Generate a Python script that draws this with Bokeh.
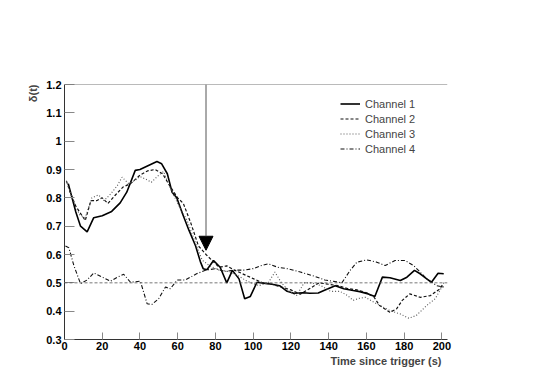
from bokeh.plotting import figure
from bokeh.models import Range1d, Span, Arrow, NormalHead, Title, Legend, LegendItem
from bokeh.embed import file_html
from bokeh.resources import INLINE

ch1_t = [2, 6, 8.5, 12, 15.5, 20, 25, 29.5, 33, 37.5, 40, 44.5, 49, 51.5, 54.5, 57, 59.5, 62.5, 66, 69.5,
         72, 73.5, 75.5, 79, 82.5, 86, 89, 92.5, 95.5, 98.5, 102, 105.5, 110, 114, 118, 121.5, 126.5, 130,
         134.5, 137.5, 143.5, 148, 153, 156.5, 161, 164.5, 168.5, 172.5, 178, 181.5, 185.5, 188.5, 192,
         194.5, 198, 201]
ch1_v = [0.85, 0.75, 0.70, 0.68, 0.73, 0.737, 0.752, 0.782, 0.82, 0.897, 0.90, 0.914, 0.928, 0.92, 0.885,
         0.82, 0.80, 0.745, 0.685, 0.63, 0.575, 0.55, 0.546, 0.579, 0.555, 0.50, 0.544, 0.514, 0.444, 0.452,
         0.502, 0.499, 0.495, 0.49, 0.47, 0.463, 0.465, 0.463, 0.464, 0.473, 0.49, 0.479, 0.473, 0.469,
         0.461, 0.452, 0.52, 0.518, 0.508, 0.52, 0.544, 0.532, 0.514, 0.502, 0.534, 0.532]

ch2_t = [1, 3, 6, 11, 14, 17, 20, 23, 27, 31, 35, 40, 44, 48, 52, 56, 60, 63, 67, 71, 75, 78, 82, 86, 90,
         95, 100, 105, 110, 115, 120, 125, 130, 135, 140, 145, 150, 155, 160, 164, 167, 172.5, 176, 179,
         183, 188.5, 194, 199, 201]
ch2_v = [0.86, 0.82, 0.77, 0.72, 0.79, 0.79, 0.80, 0.78, 0.81, 0.838, 0.85, 0.88, 0.895, 0.90, 0.885,
         0.84, 0.80, 0.78, 0.71, 0.63, 0.60, 0.58, 0.555, 0.56, 0.545, 0.53, 0.515, 0.50, 0.495, 0.485,
         0.475, 0.46, 0.48, 0.50, 0.495, 0.49, 0.48, 0.475, 0.465, 0.45, 0.42, 0.396, 0.408, 0.438, 0.461,
         0.449, 0.455, 0.479, 0.50]

ch3_t = [1, 4, 8, 11, 14.5, 18, 21, 24.5, 28, 30.5, 34, 37.5, 40, 44, 46, 50, 52.5, 55, 60, 65, 70, 73,
         77, 82, 87, 92, 97, 103, 108, 111.5, 115, 119, 123, 127, 131, 136, 141, 146, 150, 153, 156, 159.5,
         165.5, 172.5, 178, 182.5, 186.5, 192, 196.5, 200, 201.5]
ch3_v = [0.86, 0.80, 0.74, 0.73, 0.80, 0.81, 0.79, 0.814, 0.843, 0.873, 0.85, 0.862, 0.875, 0.863, 0.855,
         0.88, 0.893, 0.85, 0.78, 0.72, 0.63, 0.58, 0.56, 0.545, 0.54, 0.525, 0.505, 0.49, 0.50, 0.538,
         0.50, 0.47, 0.455, 0.50, 0.50, 0.49, 0.47, 0.47, 0.455, 0.438, 0.445, 0.449, 0.426, 0.402, 0.39,
         0.375, 0.385, 0.42, 0.444, 0.485, 0.49]

ch4_t = [0.5, 2.3, 5, 8.5, 12, 15.5, 20, 24.4, 28, 31.4, 35, 40.2, 43.8, 46.4, 49.9, 53.5, 56.1, 59.7, 64,
         70, 75, 80, 85, 90, 95, 100, 104, 108, 113, 118, 125, 133, 138, 143, 147, 151.4, 155, 160.2,
         165.5, 170, 175.2, 180.5, 185, 187.6, 192, 197.3, 201]
ch4_v = [0.63, 0.624, 0.56, 0.497, 0.51, 0.535, 0.52, 0.506, 0.52, 0.53, 0.502, 0.506, 0.426, 0.424, 0.444,
         0.485, 0.479, 0.51, 0.51, 0.532, 0.545, 0.55, 0.54, 0.545, 0.545, 0.55, 0.56, 0.567, 0.555, 0.55,
         0.538, 0.522, 0.51, 0.505, 0.50, 0.544, 0.573, 0.581, 0.573, 0.561, 0.579, 0.579, 0.561, 0.544,
         0.514, 0.49, 0.485]

labels = ["Channel 1", "Channel 2", "Channel 3", "Channel 4"]
x_ticks = [0, 20, 40, 60, 80, 100, 120, 140, 160, 180, 200]
y_ticks = [0.3, 0.4, 0.5, 0.6, 0.7, 0.8, 0.9, 1.0, 1.1, 1.2]
y_tick_text = {0.3: "0.3", 0.4: "0.4", 0.5: "0.5", 0.6: "0.6", 0.7: "0.7", 0.8: "0.8",
               0.9: "0.9", 1.0: "1", 1.1: "1.1", 1.2: "1.2"}
trigger_t = 75
baseline = 0.5

FONT = "Liberation Sans"

p = figure(width=537, height=377, output_backend="svg", toolbar_location=None,
           x_range=Range1d(0, 203), y_range=Range1d(0.3, 1.2),
           min_border_left=64, min_border_right=90, min_border_top=84, min_border_bottom=38)
p.outline_line_color = None
p.xgrid.visible = False
p.ygrid.visible = False
p.background_fill_color = "white"
p.border_fill_color = "white"

for ax in (p.xaxis[0], p.yaxis[0]):
    ax.axis_line_color = "#333333"
    ax.axis_line_width = 1
    ax.major_tick_line_color = "#888888"
    ax.minor_tick_line_color = "#555555"
    ax.major_tick_out = 0
    ax.minor_tick_out = 0
    ax.major_label_text_font = FONT
    ax.major_label_text_font_style = "bold"
    ax.major_label_text_font_size = "11px"
    ax.major_label_text_color = "black"

p.xaxis.ticker = x_ticks
p.xaxis[0].ticker.num_minor_ticks = 4
p.xaxis.major_tick_in = 7
p.xaxis.minor_tick_in = 4
p.xaxis.major_label_standoff = 2

p.yaxis.ticker = y_ticks
p.yaxis[0].ticker.num_minor_ticks = 5
p.yaxis.major_tick_in = 10
p.yaxis.minor_tick_in = 5
p.yaxis.major_label_standoff = 3
p.yaxis.major_label_overrides = y_tick_text

# frame top line and baseline
p.add_layout(Span(location=1.2, dimension="width", line_color="#777777", line_width=1))
p.add_layout(Span(location=baseline, dimension="width", line_color="#555555", line_width=0.8,
                  line_dash="3 2"))

r1 = p.line(ch1_t, ch1_v, line_color="black", line_width=1.6)
r2 = p.line(ch2_t, ch2_v, line_color="#111111", line_width=1.2, line_dash="3 2")
r3 = p.line(ch3_t, ch3_v, line_color="#555555", line_width=1.1, line_dash="1 2")
r4 = p.line(ch4_t, ch4_v, line_color="#111111", line_width=1.1, line_dash="4 2 1 2")

p.add_layout(Arrow(end=NormalHead(size=14, fill_color="black", line_color="black"),
                   x_start=trigger_t, y_start=1.2, x_end=trigger_t, y_end=0.615,
                   line_color="#555555", line_width=1))

legend = Legend(items=[LegendItem(label=labels[i], renderers=[r]) for i, r in enumerate([r1, r2, r3, r4])],
                location=(276, 184), label_text_font=FONT, label_text_font_size="11px",
                label_height=13, glyph_height=13, glyph_width=20, spacing=2, padding=0, margin=0,
                label_standoff=5, border_line_color=None, background_fill_alpha=0)
p.add_layout(legend)

p.add_layout(Title(text="Time since trigger (s)", align="right", text_font=FONT,
                   text_font_style="bold", text_font_size="11px", offset=6, standoff=0), "below")
p.add_layout(Title(text="δ(t)", align="right", text_font=FONT,
                   text_font_style="bold", text_font_size="11px"), "left")

open("out.html", "w").write(file_html(p, INLINE))
